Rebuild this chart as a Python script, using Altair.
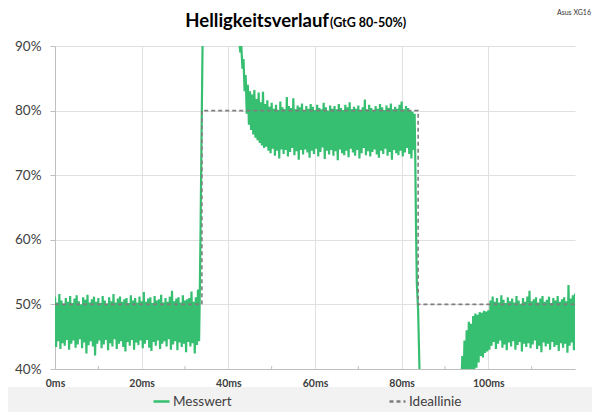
import altair as alt
import pandas as pd

GREEN = "#36BF70"
GRAY = "#7F7F7F"
FONT = "Lato"

# ---- Messwert: sampled every 0.25 ms, alternating peak / trough samples ----
# segment A: 0 ms .. 33.25 ms
A_hi = [51.2, 50.3, 51.6, 50.6, 50.1, 51.0, 50.4, 51.3, 50.2, 50.9,
        51.4, 50.5, 50.0, 51.1, 50.7, 51.5, 50.3, 50.8, 51.2, 50.4,
        51.0, 50.2, 51.3, 50.6, 50.1, 51.1, 50.5, 51.6, 50.3, 50.9,
        51.2, 50.4, 50.8, 51.0, 50.2, 51.4, 50.6, 51.0, 50.3, 51.2,
        50.5, 51.9, 50.4, 50.9, 51.1, 50.2, 51.3, 50.6, 50.8, 51.5,
        50.3, 51.0, 50.4, 51.2, 52.1, 50.5, 50.9, 51.1, 50.3, 51.4,
        50.6, 50.8, 51.0, 52.0, 50.4, 51.1, 52.3]
A_lo = [43.4, 44.3, 43.1, 44.0, 43.6, 44.5, 43.0, 43.9, 44.4, 43.3,
        43.8, 44.6, 43.2, 44.1, 42.4, 43.7, 44.3, 43.5, 42.1, 43.9,
        44.4, 43.2, 43.8, 44.5, 42.9, 44.0, 43.5, 44.6, 43.1, 43.9,
        44.3, 43.4, 42.7, 44.2, 43.6, 44.5, 43.0, 44.1, 43.7, 44.4,
        43.2, 43.9, 44.5, 43.3, 42.8, 44.2, 43.6, 44.4, 43.1, 43.9,
        44.3, 43.5, 44.6, 43.0, 43.8, 44.3, 42.9, 44.1, 43.4, 43.9,
        42.6, 44.2, 43.5, 44.0, 42.4, 43.7, 44.3]
A_start = 0.0

# rising edge and overshoot (above the visible range)
rise_t = [33.4, 33.6, 33.8, 34.05, 34.3, 42.3]
rise_v = [51.0, 62.0, 75.0, 90.0, 97.0, 97.0]

# segment B: 42.5 ms .. 82.75 ms (decay, then the 80 % plateau)
B_hi = [91.0, 90.0, 88.0, 85.5, 84.0, 83.0, 82.5, 83.2, 81.8, 82.8,
        81.3, 82.9, 81.0, 81.6,
        80.6, 81.2, 80.3, 80.9, 80.1, 81.4, 80.5, 80.2, 82.1, 80.7,
        80.4, 81.9, 80.2, 80.8, 80.5, 81.1, 80.0, 80.7, 80.3, 81.0,
        80.6, 80.1, 80.9, 80.4, 80.2, 81.2, 80.5, 80.0, 80.8, 80.3,
        80.7, 80.2, 81.0, 80.4, 80.1, 80.9, 80.5, 81.3, 80.2, 80.6,
        80.3, 80.8, 80.1, 80.5, 81.7, 80.2, 80.9, 80.4, 80.0, 80.7,
        80.3, 81.0, 80.5, 80.1, 80.8, 80.4, 81.1, 80.2, 80.6, 80.3,
        80.9, 81.4, 80.2, 80.7, 80.4, 80.1, 79.8]
B_lo = [89.0, 86.5, 83.0, 79.5, 77.8, 77.0, 76.3, 75.8, 75.4, 75.0,
        74.6, 74.2, 74.4, 73.8,
        73.4, 74.1, 73.0, 73.8, 72.6, 74.0, 73.3, 73.9, 72.9, 73.6,
        74.2, 73.1, 73.7, 72.4, 73.9, 73.2, 74.0, 73.5, 72.7, 73.8,
        73.3, 74.1, 72.9, 73.6, 74.3, 72.5, 73.8, 73.2, 73.9, 73.0,
        73.7, 72.3, 74.0, 73.4, 73.1, 73.8, 72.8, 74.1, 73.5, 73.0,
        73.9, 72.6, 73.4, 74.2, 73.1, 73.7, 72.9, 73.6, 74.0, 73.2,
        72.7, 73.8, 73.3, 74.1, 73.0, 73.6, 72.4, 73.9, 73.4, 73.1,
        73.8, 72.9, 73.5, 74.2, 73.3, 72.6, 73.9]
B_start = 42.5

# falling edge and undershoot (below the visible range)
drop_t = [83.0, 83.15, 83.3, 83.5, 83.8, 84.1, 84.3, 93.3]
drop_v = [79.5, 72.0, 62.6, 53.3, 49.0, 40.3, 35.0, 35.0]

# segment C: 93.5 ms .. 120 ms (recovery, then the 50 % plateau)
C_hi = [38.0, 42.0, 44.4, 46.0, 47.3, 47.0, 48.2, 48.6, 48.4, 48.8,
        48.7, 49.0, 48.9, 49.1,
        50.6, 51.2, 50.4, 51.0, 50.3, 51.4, 50.7, 50.2, 51.1, 50.5,
        50.9, 50.3, 51.3, 50.6, 50.1, 51.0, 50.4, 51.2, 52.1, 50.5,
        50.8, 51.1, 50.3, 50.9, 51.3, 50.4, 50.7, 51.2, 50.2, 51.0,
        50.6, 51.3, 50.4, 50.8, 51.1, 50.5, 53.0, 50.9, 51.4, 51.7]
C_lo = [37.0, 37.0, 37.0, 37.0, 37.5, 39.0, 40.0, 40.2, 41.0, 42.0,
        41.8, 42.5, 42.7, 43.0,
        43.6, 44.2, 43.1, 43.9, 44.4, 43.3, 43.8, 42.9, 44.1, 43.5,
        44.3, 43.0, 43.7, 44.2, 42.7, 43.9, 43.4, 44.0, 43.2, 43.8,
        44.4, 43.1, 43.6, 42.6, 44.1, 43.5, 43.9, 43.0, 44.2, 43.4,
        43.7, 42.8, 44.0, 43.3, 43.9, 42.5, 43.6, 44.1, 42.9, 43.4]
C_start = 93.5

# ---- Ideallinie ----
ideal_t = [0.0, 33.9, 33.9, 83.8, 83.8, 120.0]
ideal_v = [50, 50, 80, 80, 50, 50]

x_ticks = [0, 10, 20, 30, 40, 50, 60, 70, 80, 90, 100, 110]
x_minor = [10, 30, 50, 70, 90, 110]
y_ticks = [40, 50, 60, 70, 80, 90]
series = ["Messwert", "Ideallinie"]


def samples(start, hi, lo):
    out = []
    for k, (h, l) in enumerate(zip(hi, lo)):
        out.append((start + 0.5 * k, h))
        out.append((start + 0.5 * k + 0.25, l))
    return out


pts = (samples(A_start, A_hi, A_lo) + list(zip(rise_t, rise_v))
       + samples(B_start, B_hi, B_lo) + list(zip(drop_t, drop_v))
       + samples(C_start, C_hi, C_lo))
pts.sort(key=lambda p: p[0])
df_m = pd.DataFrame({"t": [p[0] for p in pts], "v": [p[1] for p in pts]})
df_m["series"] = "Messwert"
df_m["i"] = range(len(df_m))

df_i = pd.DataFrame({"t": ideal_t, "v": ideal_v})
df_i["series"] = "Ideallinie"
df_i["i"] = range(len(df_i))

W, H = 520, 323

x_enc = alt.X("t:Q", scale=alt.Scale(domain=[0, 120], nice=False, zero=False),
              axis=alt.Axis(values=x_ticks, title=None, ticks=False, tickSize=0,
                            labelExpr="datum.value % 20 === 0 ? datum.value + 'ms' : ''",
                            labelFont=FONT, labelFontSize=10.5, labelFontWeight="bold",
                            labelColor="#404040", labelFlush=False, labelPadding=9,
                            labelOverlap=False, domainColor="#BFBFBF",
                            grid=True, gridColor="#E0E0E0",
                            gridOpacity={"condition": {"test": "datum.value % 20 === 0", "value": 1}, "value": 0}))
y_enc = alt.Y("v:Q", scale=alt.Scale(domain=[40, 90], nice=False, zero=False),
              axis=alt.Axis(values=y_ticks, title=None, labelExpr="datum.value + '%'",
                            labelFont=FONT, labelFontSize=13.5, labelColor="#404040",
                            tickSize=5, tickColor="#BFBFBF", labelPadding=9,
                            domainColor="#BFBFBF", grid=True, gridColor="#E0E0E0"))

leg = alt.Legend(title=None, orient="none", legendX=97, legendY=346, direction="horizontal")
color_enc = alt.Color("series:N", scale=alt.Scale(domain=series, range=[GREEN, GRAY]), legend=leg)
dash_enc = alt.StrokeDash("series:N", scale=alt.Scale(domain=series, range=[[1, 0], [4, 3]]), legend=leg)

one = pd.DataFrame({"k": [0]})

band = alt.Chart(one).mark_rect(color="#F2F2F2").encode(
    x=alt.value(-47), x2=alt.value(537), y=alt.value(341), y2=alt.value(366))

meas = alt.Chart(df_m).mark_line(strokeWidth=2.2, clip=True).encode(
    x=x_enc, y=y_enc, color=color_enc, strokeDash=dash_enc, order="i:Q")

ideal = alt.Chart(df_i).mark_line(strokeWidth=1.6, clip=True).encode(
    x="t:Q", y="v:Q", color=color_enc, strokeDash=dash_enc, order="i:Q")

minor = alt.Chart(pd.DataFrame({"t": x_minor})).mark_rule(color="#BFBFBF").encode(
    x="t:Q", y=alt.value(H - 3), y2=alt.value(H))

title1 = alt.Chart(one).mark_text(text="Helligkeitsverlauf", font=FONT, fontSize=18.5,
                                  fontWeight="bold", align="right", baseline="alphabetic",
                                  color="#000000").encode(x=alt.value(274), y=alt.value(-19))
title2 = alt.Chart(one).mark_text(text="(GtG 80-50%)", font=FONT, fontSize=12.5,
                                  fontWeight="bold", align="left", baseline="alphabetic",
                                  color="#000000").encode(x=alt.value(275), y=alt.value(-19))
brand = alt.Chart(one).mark_text(text="Asus XG16", font=FONT, fontSize=7,
                                 align="right", baseline="top",
                                 color="#333333").encode(x=alt.value(536), y=alt.value(-37))

chart = alt.layer(band, meas, minor, ideal, title1, title2, brand).properties(
    width=W, height=H,
    autosize=alt.AutoSizeParams(type="none"),
    padding={"left": 47, "top": 38, "right": 17, "bottom": 43},
    background="white",
).configure_view(stroke=None).configure_legend(
    labelFont=FONT, labelFontSize=13.5, labelColor="#404040",
    symbolType="stroke", symbolSize=256, symbolStrokeWidth=2.5,
    labelOffset=2, columnPadding=152, padding=0,
)

chart.save("out.html", embed_options={"renderer": "svg", "actions": False})
